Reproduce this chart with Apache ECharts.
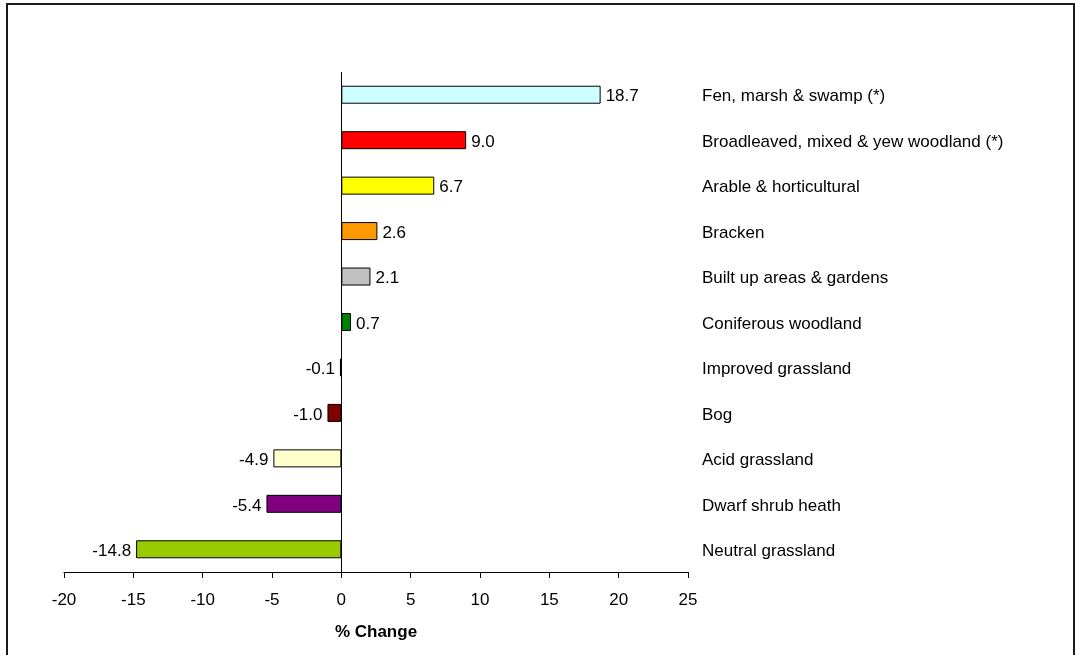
<!DOCTYPE html>
<html>
<head>
<meta charset="utf-8">
<script src="https://cdn.jsdelivr.net/npm/echarts@6/dist/echarts.min.js"></script>
<style>
  html, body { margin: 0; padding: 0; background: #ffffff; }
  #chart { width: 1075px; height: 655px; }
</style>
</head>
<body>
<div id="chart"></div>
<script>
// Habitat categories, top to bottom
const categories = [
  'Fen, marsh & swamp (*)',
  'Broadleaved, mixed & yew woodland (*)',
  'Arable & horticultural',
  'Bracken',
  'Built up areas & gardens',
  'Coniferous woodland',
  'Improved grassland',
  'Bog',
  'Acid grassland',
  'Dwarf shrub heath',
  'Neutral grassland'
];
// Percentage change in area
const changes = [18.7, 9.0, 6.7, 2.6, 2.1, 0.7, -0.1, -1.0, -4.9, -5.4, -14.8];
// Fill colour per habitat
const barColors = ['#ccffff', '#ff0000', '#ffff00', '#ff9900', '#c0c0c0', '#008000',
                   '#000000', '#800000', '#ffffcc', '#800080', '#99cc00'];
// Value axis ticks
const xTicks = [-20, -15, -10, -5, 0, 5, 10, 15, 20, 25];

const FONT = 'Liberation Sans, Arial, sans-serif';
const FS = 17;

const chart = echarts.init(document.getElementById('chart'), null, { renderer: 'canvas' });

const barData = changes.map((v, i) => ({
  value: v,
  itemStyle: { color: barColors[i] },
  label: { position: v >= 0 ? 'right' : 'left' }
}));

chart.setOption({
  animation: false,
  backgroundColor: '#ffffff',
  graphic: [{
    type: 'rect',
    shape: { x: 7, y: 4, width: 1067, height: 700 },
    style: { fill: 'none', stroke: '#1a1a1a', lineWidth: 2 },
    silent: true
  }],
  grid: { left: 64, right: 387, top: 72, bottom: 83, containLabel: false },
  xAxis: {
    type: 'value',
    min: xTicks[0],
    max: xTicks[xTicks.length - 1],
    interval: 5,
    name: '% Change',
    nameLocation: 'middle',
    nameGap: 52,
    nameTextStyle: { fontFamily: FONT, fontSize: FS, fontWeight: 'bold', color: '#000' },
    axisLine: { show: true, onZero: false, lineStyle: { color: '#000', width: 1 } },
    axisTick: { show: true, inside: false, length: 6, lineStyle: { color: '#000' } },
    axisLabel: { fontFamily: FONT, fontSize: FS, color: '#000', margin: 20 },
    splitLine: { show: false }
  },
  yAxis: {
    type: 'category',
    data: categories,
    inverse: true,
    position: 'right',
    axisLine: { show: false },
    axisTick: { show: false },
    axisLabel: {
      color: '#000', margin: 14, align: 'left',
      formatter: v => '{c|' + v + '}',
      rich: {
        c: { fontFamily: FONT, fontSize: FS, color: '#000', padding: [4, 0, 0, 0] }
      }
    },
    splitLine: { show: false }
  },
  series: [{
    type: 'bar',
    data: barData,
    barWidth: 18,
    itemStyle: { borderColor: '#000', borderWidth: 1 },
    label: {
      show: true,
      distance: 5,
      offset: [0, 2],
      fontFamily: FONT,
      fontSize: FS,
      color: '#000',
      formatter: p => p.value.toFixed(1)
    },
    markLine: {
      silent: true,
      symbol: 'none',
      label: { show: false },
      lineStyle: { color: '#000', width: 1, type: 'solid' },
      data: [{ xAxis: 0 }]
    }
  }]
});
</script>
</body>
</html>
